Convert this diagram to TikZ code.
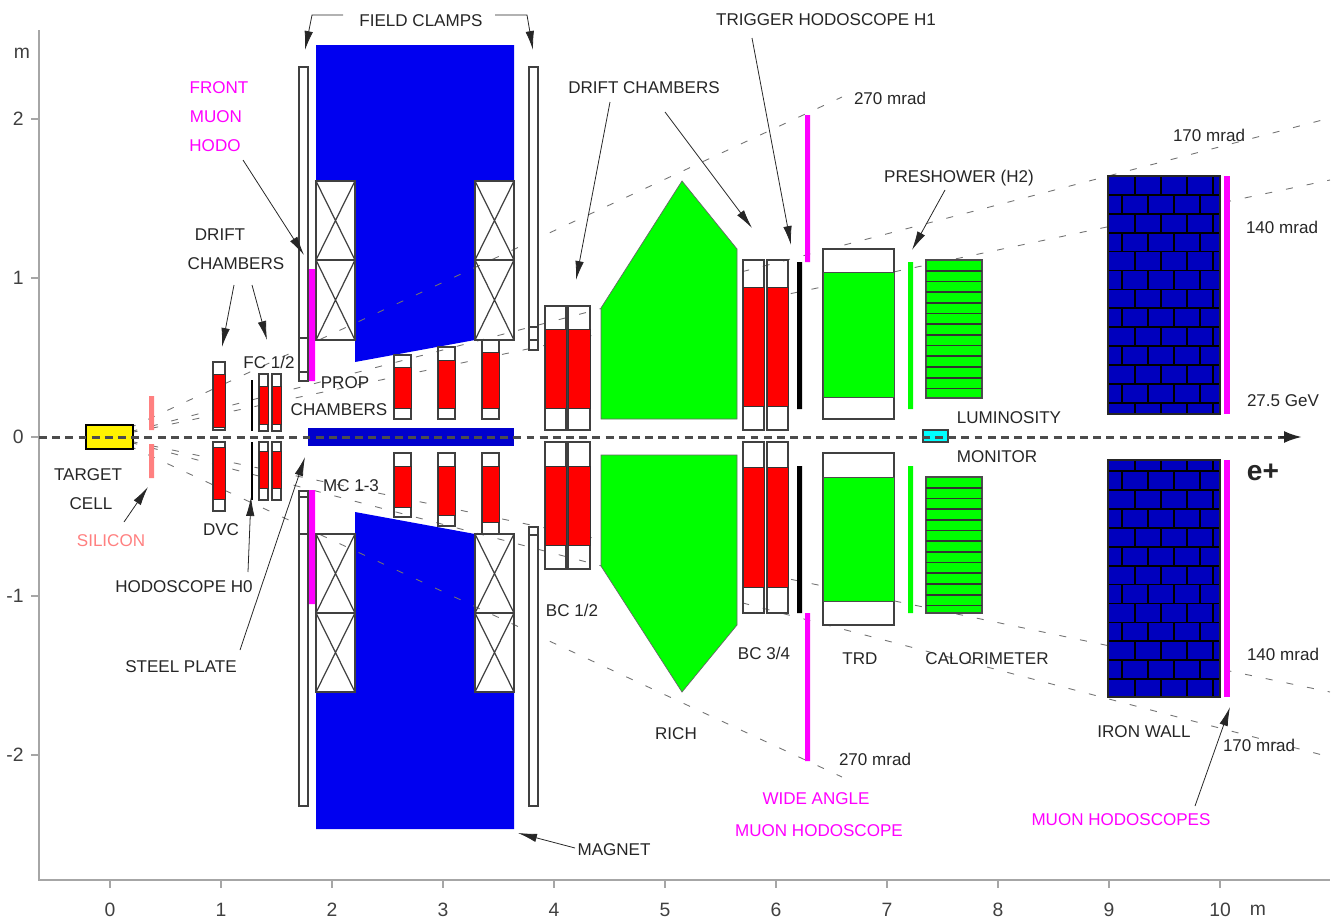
\documentclass[tikz,border=0pt]{standalone}
\usepackage{fontspec}
\setmainfont{Liberation Sans}
\usetikzlibrary{arrows.meta}
\definecolor{magnetblue}{RGB}{0,0,240}
\definecolor{plateblue}{RGB}{0,0,205}
\definecolor{wallblue}{RGB}{0,0,190}
\definecolor{sipink}{RGB}{255,128,128}
\definecolor{hotmagenta}{RGB}{255,0,255}
\definecolor{lumicyan}{RGB}{0,255,255}
\tikzset{
	lbl/.style={inner sep=0pt, text=black!85, font=\fontsize{9.7}{11}\selectfont},
	maglbl/.style={lbl, text=hotmagenta},
	ticklbl/.style={inner sep=0pt, text=black!75, font=\fontsize{11}{13}\selectfont},
	axisline/.style={gray!70, line width=0.8pt},
	leader/.style={black!85, line width=0.45pt, -{Latex[length=3.8mm, width=1.7mm]}},
	accept/.style={black!55, line width=0.5pt, dash pattern=on 4pt off 8pt},
	detbox/.style={draw=black!75, line width=0.7pt},
	redpart/.style={fill=red, draw=black!80, line width=0.5pt}
}

\begin{document}
\begin{tikzpicture}[x=0.02cm, y=-0.02cm]
	\useasboundingbox (0, 0) rectangle (1335, 923);
	% axes
	\draw[axisline] (39, 30) -- (39, 880) -- (1330, 880);
	\foreach \yy/\val in {119/2, 278/1, 437/0, 596/-1, 755/-2} {
		\draw[axisline] (39, \yy) -- (31, \yy);
		\node[ticklbl, left=4pt] (ytick\val) at (31, \yy) {\val};
	}
	\foreach \xx/\val in {110/0, 221/1, 332/2, 443/3, 554/4, 665/5, 776/6, 887/7, 998/8, 1109/9, 1220/10} {
		\draw[axisline] (\xx, 880) -- (\xx, 888);
		\node[ticklbl] (xtick\val) at (\xx, 910) {\val};
	}
	\node[ticklbl] (ymeter) at (22, 53) {m};
	\node[ticklbl] (xmeter) at (1258, 910) {m};
	% magnet
	\fill[magnetblue] (316, 45) -- (514, 45) -- (514, 181) -- (475, 181) -- (475, 340) -- (355, 362) -- (355, 181) -- (316, 181) -- cycle;
	\fill[magnetblue] (316, 829) -- (514, 829) -- (514, 692) -- (475, 692) -- (475, 534) -- (355, 512) -- (355, 692) -- (316, 692) -- cycle;
	% acceptance lines
	\coordinate (tgt) at (110, 437);
	\foreach \name/\xe/\ye in {upA/842/97, loA/842/777, upB/1330/118, loB/1330/757, upC/1330/180, loC/1330/692} {
		\coordinate (\name) at (\xe, \ye);
		\draw[accept] (tgt) -- (\name);
	}
	% coils
	\foreach \xa/\xb in {316/355, 475/514} {
		\foreach \ya/\yb in {181/260, 260/340, 534/613, 613/692} {
			\draw[detbox] (\xa, \ya) rectangle (\xb, \yb);
			\draw[detbox] (\xa, \ya) -- (\xb, \yb) (\xa, \yb) -- (\xb, \ya);
		}
	}
	% field clamps
	\foreach \xa/\ya/\yb in {299/67/381, 299/491/806, 529/67/350, 529/527/806} {
		\filldraw[detbox, fill=white] (\xa, \ya) rectangle (\xa+9, \yb);
	}
	\draw[detbox] (299, 338) -- (308, 338) (299, 372) -- (308, 372) (299, 497) -- (308, 497) (299, 534) -- (308, 534);
	\draw[detbox] (529, 327) -- (538, 327) (529, 340) -- (538, 340) (529, 535) -- (538, 535);
	% target, silicon, hodoscopes
	\filldraw[fill=yellow, draw=black, line width=0.8pt] (86, 425) rectangle (133, 449);
	\fill[sipink] (149, 396) rectangle (154, 430) (149, 444) rectangle (154, 478);
	\draw[black, line width=0.6pt] (252, 380) -- (252, 431) (252, 442) -- (252, 500);
	\fill[hotmagenta] (309, 269) rectangle (315, 381) (309, 490) rectangle (315, 604);
	% chambers
	\foreach \xa/\xb/\ya/\ra/\rb/\yb in {
		213/225/362/374/427/430, 213/225/442/447/499/511,
		259/268/374/386/424/431, 272/281/374/386/424/431,
		259/268/442/451/488/500, 272/281/442/451/488/500,
		394/411/355/367/408/419, 438/455/347/360/408/419, 482/499/340/352/408/419,
		394/411/453/466/507/517, 438/455/453/466/515/526, 482/499/453/466/522/534,
		545/566/306/329/408/430, 568/590/306/329/408/430,
		545/566/442/466/545/569, 568/590/442/466/545/569,
		743/764/260/287/406/430, 767/788/260/287/406/430,
		743/764/442/467/587/613, 767/788/442/467/587/613} {
		\draw[detbox] (\xa, \ya) rectangle (\xb, \yb);
		\filldraw[redpart] (\xa, \ra) rectangle (\xb, \rb);
	}
	% steel plate
	\fill[plateblue] (308, 428) rectangle (514, 446);
	% rich
	\filldraw[fill=green, draw=black!60, line width=0.4pt] (601, 308) -- (682, 181) -- (737, 249) -- (737, 419) -- (601, 419) -- cycle;
	\filldraw[fill=green, draw=black!60, line width=0.4pt] (601, 566) -- (682, 692) -- (737, 625) -- (737, 455) -- (601, 455) -- cycle;
	% trigger and wide angle hodoscope
	\fill[black] (797, 262) rectangle (802, 409) (797, 466) rectangle (802, 613);
	\fill[hotmagenta] (805, 115) rectangle (810, 262) (805, 613) rectangle (810, 761);
	% trd
	\foreach \ya/\ra/\rb/\yb in {249/272/397/419, 453/477/601/625} {
		\filldraw[detbox, fill=white] (823, \ya) rectangle (894, \yb);
		\filldraw[fill=green, draw=black!70, line width=0.5pt] (823, \ra) rectangle (894, \rb);
	}
	% preshower
	\fill[green] (908, 262) rectangle (913, 409) (908, 466) rectangle (913, 613);
	% calorimeter
	\foreach \ya/\yb in {260/398, 477/613} {
		\filldraw[fill=green, draw=black!70, line width=0.6pt] (926, \ya) rectangle (982, \yb);
		\foreach \k in {1,...,12} {
			\draw[black!80, line width=1pt] (926, {\ya+\k*10.7}) -- (982, {\ya+\k*10.7});
		}
	}
	% luminosity monitor
	\filldraw[fill=lumicyan, draw=black!75, line width=0.7pt] (923, 430) rectangle (948, 442);
	% iron wall
	\foreach \ya/\yb/\ys/\sg in {176/414/176/1, 460/697/698/-1} {
		\begin{scope}
			\clip (1108, \ya) rectangle (1220, \yb);
			\fill[wallblue] (1108, \ya) rectangle (1220, \yb);
			\foreach \k in {0,...,12} {
				\draw[black, line width=1pt] (1108, {\ys+\sg*\k*18.9}) -- (1220, {\ys+\sg*\k*18.9});
				\pgfmathsetmacro{\xs}{mod(\k,2)==0 ? 1135 : 1122}
				\foreach \j in {0,...,3} {
					\draw[black, line width=1pt] ({\xs+\j*26.1}, {\ys+\sg*\k*18.9}) -- ({\xs+\j*26.1}, {\ys+\sg*(\k+1)*18.9});
				}
			}
		\end{scope}
		\draw[black!85, line width=0.8pt] (1108, \ya) rectangle (1220, \yb);
		\fill[hotmagenta] (1224, \ya) rectangle (1230, \yb);
	}
	% beam
	\coordinate (beamstart) at (39, 437);
	\coordinate (beamend) at (1302, 437);
	\draw[black!70, line width=1.7pt, dash pattern=on 4.5pt off 3pt] (beamstart) -- (1285, 437);
	\draw[black!85, line width=1.4pt, -{Latex[length=3.6mm, width=2.4mm]}] (1280, 437) -- (beamend);
	% labels
	\node[lbl] (clamps) at (421, 21) {FIELD CLAMPS};
	\node[lbl] (trigger) at (826, 20) {TRIGGER HODOSCOPE H1};
	\node[lbl] (driftb) at (644, 88) {DRIFT CHAMBERS};
	\node[maglbl] (hodoa) at (219, 88) {FRONT};
	\node[maglbl] (hodob) at (216, 117) {MUON};
	\node[maglbl] (hodoc) at (215, 146) {HODO};
	\node[lbl] (drifta) at (220, 235) {DRIFT};
	\node[lbl] (driftc) at (236, 264) {CHAMBERS};
	\node[lbl] (fc) at (269, 362) {FC 1/2};
	\node[lbl] (propa) at (345, 383) {PROP};
	\node[lbl] (propb) at (339, 410) {CHAMBERS};
	\node[lbl] (mc) at (351, 486) {MC 1-3};
	\node[lbl] (targeta) at (88, 475) {TARGET};
	\node[lbl] (targetb) at (91, 504) {CELL};
	\node[lbl, text=sipink] (silicon) at (111, 541) {SILICON};
	\node[lbl] (dvc) at (221, 530) {DVC};
	\node[lbl] (hzero) at (184, 587) {HODOSCOPE H0};
	\node[lbl] (steel) at (181, 667) {STEEL PLATE};
	\node[lbl] (bca) at (572, 610) {BC 1/2};
	\node[lbl] (bcb) at (764, 653) {BC 3/4};
	\node[lbl] (trd) at (860, 659) {TRD};
	\node[lbl] (calo) at (987, 659) {CALORIMETER};
	\node[lbl] (rich) at (676, 734) {RICH};
	\node[lbl] (iron) at (1144, 732) {IRON WALL};
	\node[lbl] (mraduA) at (890, 98) {270 mrad};
	\node[lbl] (mradlA) at (875, 759) {270 mrad};
	\node[lbl] (mraduB) at (1209, 135) {170 mrad};
	\node[lbl] (mradlB) at (1259, 745) {170 mrad};
	\node[lbl] (mraduC) at (1282, 227) {140 mrad};
	\node[lbl] (mradlC) at (1283, 654) {140 mrad};
	\node[lbl] (energy) at (1283, 401) {27.5 GeV};
	\node[inner sep=0pt, text=black!85, font=\fontsize{16}{18}\selectfont\bfseries] (eplus) at (1263, 472) {e+};
	\node[lbl] (preshower) at (959, 178) {PRESHOWER (H2)};
	\node[lbl] (lumia) at (1009, 418) {LUMINOSITY};
	\node[lbl] (lumib) at (997, 457) {MONITOR};
	\node[maglbl] (widea) at (816, 799) {WIDE ANGLE};
	\node[maglbl] (wideb) at (819, 831) {MUON HODOSCOPE};
	\node[maglbl] (muon) at (1121, 820) {MUON HODOSCOPES};
	\node[lbl] (magnet) at (614, 850) {MAGNET};
	% leaders
	\coordinate (clamplstart) at (343, 15);
	\coordinate (clamplbend) at (312, 15);
	\coordinate (clampl) at (305, 50);
	\coordinate (clamprstart) at (495, 15);
	\coordinate (clamprbend) at (527, 15);
	\coordinate (clampr) at (533, 50);
	\draw[leader] (clamplstart) -- (clamplbend) -- (clampl);
	\draw[leader] (clamprstart) -- (clamprbend) -- (clampr);
	\foreach \name/\xa/\ya/\xb/\yb in {
		trg/752/38/791/245, dba/610/102/576/280, dbb/665/112/752/228,
		fh/243/160/304/255, daa/234/285/222/347, dab/252/285/267/340,
		si/124/522/148/487, hz/248/572/251/497, sp/240/650/305/457,
		ps/945/190/912/250, mh/1195/806/1230/707, mg/575/848/518/833} {
		\coordinate (\name from) at (\xa, \ya);
		\coordinate (\name to) at (\xb, \yb);
		\draw[leader] (\name from) -- (\name to);
	}
\end{tikzpicture}
\end{document}
